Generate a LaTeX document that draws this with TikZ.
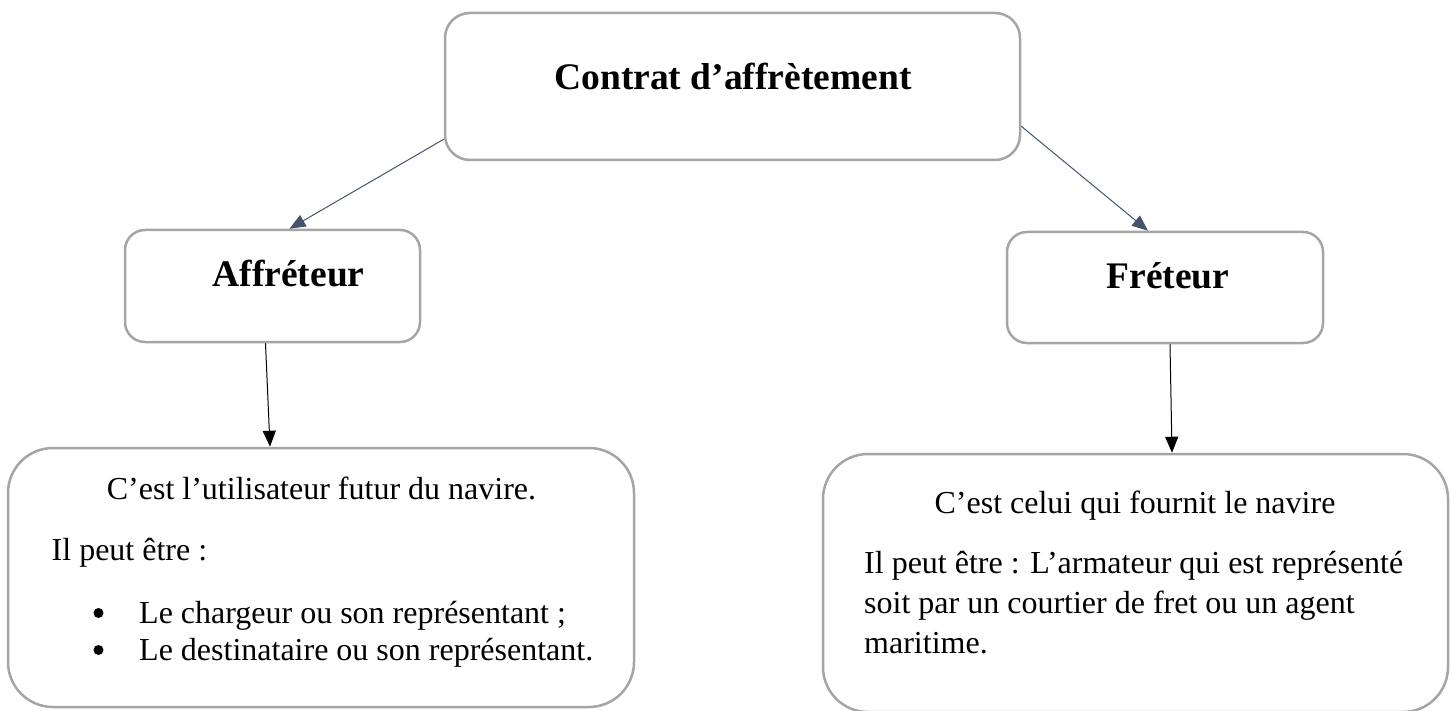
\documentclass[tikz,border=0pt]{standalone}
\usepackage{fontspec}
\setmainfont{Liberation Serif}
\usetikzlibrary{arrows.meta,calc}
\definecolor{boxgray}{HTML}{A5A5A5}
\definecolor{navy}{HTML}{44546A}
\tikzset{
  box/.style={draw=boxgray, line width=2.5pt, rectangle, inner sep=0pt},
  title/.style={font=\fontsize{37.5}{44}\selectfont\bfseries, inner sep=0pt},
  body/.style={font=\fontsize{32}{38}\selectfont, inner sep=0pt},
  navyarr/.style={draw=navy, line width=1pt, -{Triangle[length=16pt,width=13pt]}, navy},
  blackarr/.style={draw=black, line width=1pt, -{Triangle[length=16pt,width=13pt]}},
}
\begin{document}
\begin{tikzpicture}[x=1pt,y=-1pt]
\useasboundingbox (0,0) rectangle (1451,711);
% boxes
\node[box, rounded corners=25pt, minimum width=575pt, minimum height=147pt] (top) at (732.5,86.5) {};
\node[box, rounded corners=20pt, minimum width=295pt, minimum height=112pt] (aff) at (272.5,286) {};
\node[box, rounded corners=20pt, minimum width=316pt, minimum height=111pt] (fre) at (1165,287.5) {};
\node[box, rounded corners=45pt, minimum width=626pt, minimum height=259pt] (lb) at (321,577.5) {};
\node[box, rounded corners=45pt, minimum width=625pt, minimum height=258pt] (rb) at (1135.5,583) {};
% titles
\node[title, anchor=base] (ttop) at (733,90) {Contrat d’affrètement};
\node[title, anchor=base] (taff) at (288.5,287) {Affréteur};
\node[title, anchor=base] (tfre) at (1168,289) {Fréteur};
% left body
\node[body, anchor=base] (l1) at (321.5,499) {C’est l’utilisateur futur du navire.};
\node[body, anchor=base west] (l2) at (51.5,560) {Il peut être :};
\node[body, anchor=base west] (l3) at (139,623) {Le chargeur ou son représentant ;};
\node[body, anchor=base west] (l4) at (139,660) {Le destinataire ou son représentant.};
\fill (98.5,613) circle (5pt);
\fill (98.5,650) circle (5pt);
% right body
\node[body, anchor=base] (r1) at (1135,513) {C’est celui qui fournit le navire};
\node[body, anchor=base west] (r2) at (864,573) {Il peut être : L’armateur qui est représenté};
\node[body, anchor=base west] (r3) at (864,613) {soit par un courtier de fret ou un agent};
\node[body, anchor=base west] (r4) at (864,653) {maritime.};
% arrows
\draw[navyarr] ([yshift=22pt]top.south west) -- ([xshift=17pt]aff.north);
\draw[navyarr] ([yshift=35pt]top.south east) -- ([xshift=-17pt]fre.north);
\draw[blackarr] ([xshift=-7pt]aff.south) -- ([xshift=-51pt]lb.north);
\draw[blackarr] ([xshift=5pt]fre.south) -- ([xshift=36.5pt]rb.north);
\end{tikzpicture}
\end{document}
